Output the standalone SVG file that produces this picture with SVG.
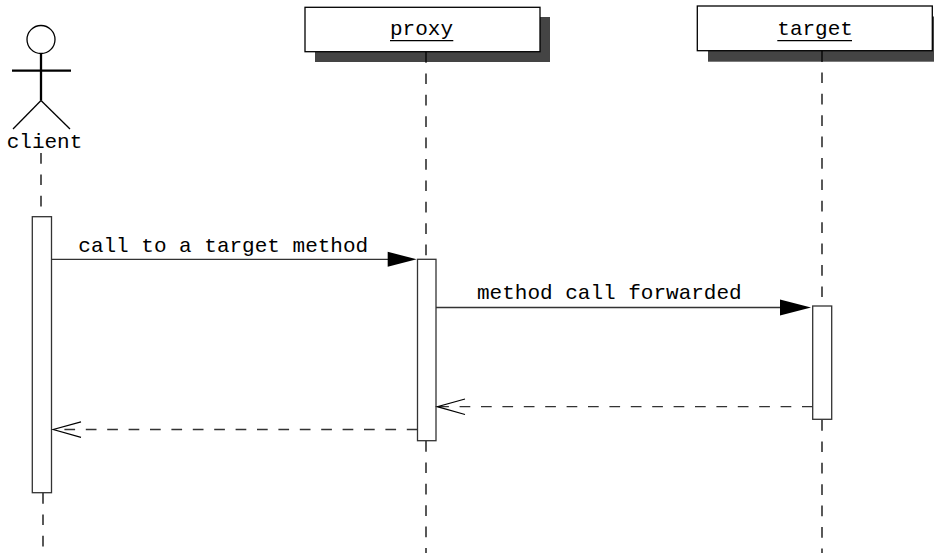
<svg xmlns="http://www.w3.org/2000/svg" width="934" height="553" viewBox="0 0 934 553">
<style>
text{font-family:"Liberation Mono","Courier New",monospace;font-size:21px;fill:#000}
.life{stroke:#000;stroke-width:1.3;stroke-dasharray:10.7 10.7;fill:none}
.head{fill:#fff;stroke:#000;stroke-width:1.3}
.shadow{fill:#444}
.act{fill:#fff;stroke:#333;stroke-width:1.3}
.msg{stroke:#333;stroke-width:1.3;fill:none}
.ret{stroke:#333;stroke-width:1.3;fill:none;stroke-dasharray:10.7 10.7}
.open{stroke:#000;stroke-width:1.2;fill:none}
.ul{stroke:#000;stroke-width:1.2}
.thick{stroke:#000;stroke-width:2.3}
.thin{stroke:#000;stroke-width:1.3}
</style>
<rect width="934" height="553" fill="#fff"/>
<g id="lifelines">
<line class="life" x1="41" y1="153" x2="41" y2="216"/>
<line class="life" x1="43" y1="493" x2="43" y2="553"/>
<line class="life" x1="426" y1="52" x2="426" y2="259"/>
<line class="life" x1="426" y1="441" x2="426" y2="553"/>
<line class="life" x1="822" y1="51" x2="822" y2="306"/>
<line class="life" x1="822" y1="420" x2="822" y2="553"/>
</g>
<g id="client">
<circle class="head" cx="41" cy="39.5" r="14"/>
<line class="thick" x1="41" y1="53.5" x2="41" y2="100.5"/>
<line class="thick" x1="12" y1="70.7" x2="71" y2="70.7"/>
<line class="thin" x1="41" y1="100.5" x2="13" y2="129"/>
<line class="thin" x1="41" y1="100.5" x2="70" y2="129"/>
<text x="6.7" y="148">client</text>
</g>
<g id="proxy">
<rect class="shadow" x="315" y="17" width="235" height="45"/>
<rect x="305" y="7.3" width="235" height="44.4" fill="#fff" stroke="#000" stroke-width="1.3"/>
<text x="390" y="35">proxy</text>
<line class="ul" x1="390" y1="40.7" x2="453.3" y2="40.7"/>
<line x1="426" y1="51.7" x2="426" y2="62" stroke="#000" stroke-width="1.3"/>
</g>
<g id="target">
<rect class="shadow" x="708" y="16.5" width="236" height="45.2"/>
<rect x="697.3" y="6" width="235" height="44.7" fill="#fff" stroke="#000" stroke-width="1.3"/>
<text x="777.3" y="35">target</text>
<line class="ul" x1="777.3" y1="40.7" x2="852" y2="40.7"/>
<line x1="822" y1="50.7" x2="822" y2="61.7" stroke="#000" stroke-width="1.3"/>
</g>
<g id="activations">
<rect id="act-client" class="act" x="32.3" y="216.7" width="19.2" height="276"/>
<rect id="act-proxy" class="act" x="417.5" y="259.3" width="18.5" height="181.4"/>
<rect id="act-target" class="act" x="812.7" y="306" width="19" height="113.3"/>
</g>
<g id="connectors">
<line class="msg" x1="51.5" y1="259.3" x2="390" y2="259.3"/>
<polygon points="387.7,251.8 416.7,259.3 387.7,266.8" fill="#000"/>
<text x="78.3" y="251.5">call to a target method</text>
<line class="msg" x1="436" y1="307.5" x2="782" y2="307.5"/>
<polygon points="780,299.5 811,307.5 780,315.5" fill="#000"/>
<text x="477" y="299">method call forwarded</text>
<line class="ret" x1="812.7" y1="406.7" x2="438" y2="406.7"/>
<polyline class="open" points="465,399 437.3,406.7 465,414.5"/>
<line class="ret" x1="417.5" y1="429.5" x2="55" y2="429.5"/>
<polyline class="open" points="81,421.8 53.3,429.5 81,437.3"/>
</g>
</svg>
